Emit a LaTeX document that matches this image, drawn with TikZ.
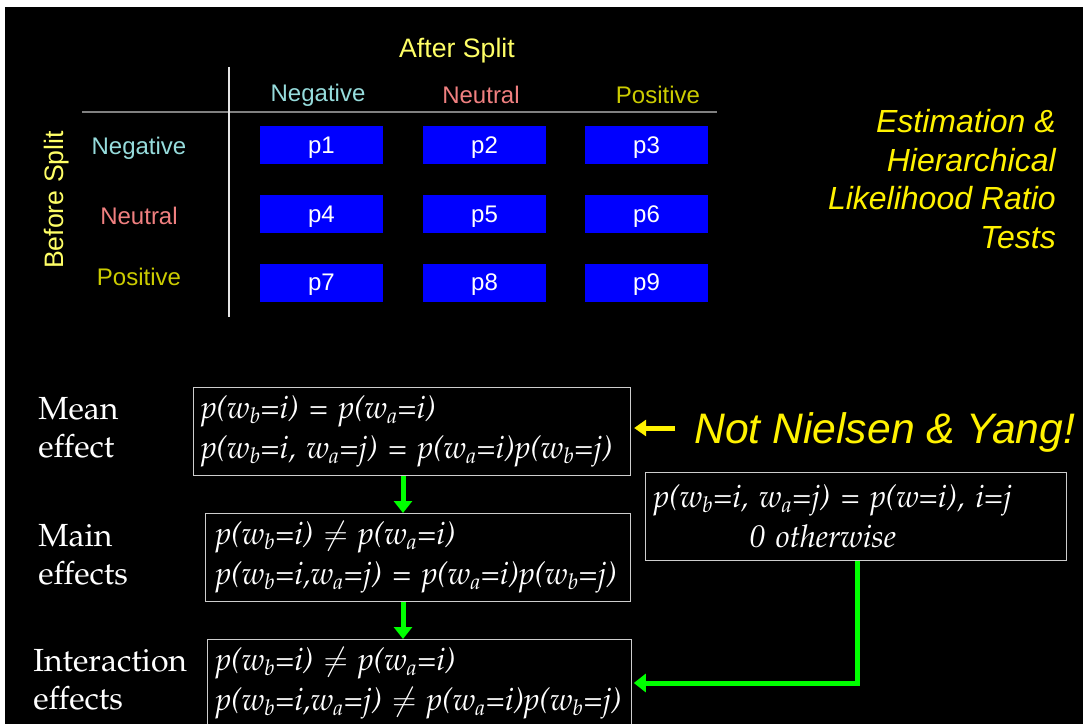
\documentclass[tikz,border=0pt]{standalone}
\usepackage[T1]{fontenc}
\usepackage{fontspec}
\setsansfont{Liberation Sans}
\usetikzlibrary{arrows.meta,positioning,calc}
\definecolor{negcol}{RGB}{150,220,220}
\definecolor{neucol}{RGB}{240,128,128}
\definecolor{poscol}{RGB}{204,204,0}
\definecolor{splitcol}{RGB}{255,255,102}
\definecolor{boxline}{RGB}{205,205,205}
\newcommand\palfont{\fontencoding{T1}\fontfamily{ppl}\selectfont}
\tikzset{%
  % Specifications for style of nodes:
  cell/.style = {rectangle, fill=blue, text=white, inner sep=0pt,
    minimum width=92.25pt, minimum height=28.5pt, text depth=0pt,
    font=\sffamily\fontsize{18}{20}\selectfont},
  head/.style = {inner sep=0pt, font=\sffamily\fontsize{18}{20}\selectfont},
  split/.style = {inner sep=0pt, text=splitcol,
    font=\sffamily\fontsize{20}{24}\selectfont},
  effect/.style = {inner sep=0pt, text=white, anchor=west, align=left,
    font=\palfont\fontsize{24}{28.5}\selectfont},
  model/.style = {rectangle, draw=boxline, line width=1.1pt, text=white,
    anchor=north west, align=left, minimum height=66pt, inner ysep=0pt,
    font=\palfont\itshape\fontsize{23.5}{30}\selectfont},
  note/.style = {inner sep=0pt, text=yellow, font=\sffamily\itshape},
  flow/.style = {draw=green, line width=3.75pt,
    -{Triangle[width=13.5pt,length=9pt]}},
}

\begin{document}
\begin{tikzpicture}[x=0.75pt, y=-0.75pt]
  \useasboundingbox (0,0) rectangle (1083,724);
  \clip (0,0) rectangle (1083,724);
  \fill[white] (0,0) rectangle (1083,724);
  \fill[black] (5,7) rectangle (1083,724);

  % table of transition probabilities
  \node[split] (after) at (457,51) {After Split};
  \node[split, rotate=90] (before) at (57,200) {Before Split};
  \node[head, text=negcol] (colneg) at (318,95) {Negative};
  \node[head, text=neucol] (colneu) at (481,95) {Neutral};
  \node[head, text=poscol] (colpos) at (658,95) {Positive};
  \node[head, text=negcol] (rowneg) at (139,148) {Negative};
  \node[head, text=neucol] (rowneu) at (139,216) {Neutral};
  \node[head, text=poscol] (rowpos) at (139,277) {Positive};
  \draw[gray, line width=1.2pt] (82,112) -- (717,112);
  \draw[white!90!black, line width=0.9pt] (229,67) -- (229,317);
  \foreach \row/\y in {0/145.5,1/214,2/282.5}
    \foreach \col/\x in {1/321.5,2/484.5,3/646.5}{
      \pgfmathtruncatemacro\k{3*\row+\col}
      \node[cell] (p\k) at (\x,\y) {p\k};
    }

  \node[note, align=right, anchor=east,
    font=\sffamily\itshape\fontsize{24}{29}\selectfont] (title) at (1056,179)
    {Estimation \&\\ Hierarchical\\ Likelihood Ratio\\ Tests};

  % hierarchy of models
  \node[effect] (meanlab) at (38,428) {Mean\\ effect};
  \node[effect] (mainlab) at (38,555) {Main\\ effects};
  \node[effect] (interlab) at (33,680) {Interaction\\ effects};

  \node[model, inner xsep=5.5pt, text width=316.75pt] (mean) at (193,387)
    {p(w\textsubscript{b}=i) = p(w\textsubscript{a}=i)\\
     p(w\textsubscript{b}=i, w\textsubscript{a}=j) = p(w\textsubscript{a}=i)p(w\textsubscript{b}=j)};
  \node[model, inner xsep=7.5pt, text width=303.75pt] (main) at (205,513)
    {p(w\textsubscript{b}=i) $\neq$ p(w\textsubscript{a}=i)\\
     p(w\textsubscript{b}=i,w\textsubscript{a}=j) = p(w\textsubscript{a}=i)p(w\textsubscript{b}=j)};
  \node[model, inner xsep=6pt, text width=306pt] (inter) at (207,639)
    {p(w\textsubscript{b}=i) $\neq$ p(w\textsubscript{a}=i)\\
     \mbox{p(w\textsubscript{b}=i,w\textsubscript{a}=j) $\neq$ p(w\textsubscript{a}=i)p(w\textsubscript{b}=j)}};
  \node[model, inner xsep=6pt, text width=303.75pt] (cond) at (645,472)
    {p(w\textsubscript{b}=i, w\textsubscript{a}=j) = p(w=i), i=j\\
     \hspace*{72pt}0 otherwise};

  \node[note, anchor=west, font=\sffamily\itshape\fontsize{32}{38}\selectfont]
    (nielsen) at (694,432) {Not Nielsen \& Yang!};

  % connectors
  \coordinate (axis) at (403,0);
  \coordinate (drop) at (857,683);
  \draw[flow] (mean.south -| axis) -- (main.north -| axis);
  \draw[flow] (main.south -| axis) -- (inter.north -| axis);
  \draw[flow] (cond.south -| drop) |- ([xshift=1pt]inter.east |- drop);
  \draw[draw=yellow, line width=3.75pt, -{Triangle[width=12pt,length=9pt]}]
    ([xshift=-14pt]nielsen.west |- 0,428) -- ([xshift=2pt]mean.east |- 0,428);
\end{tikzpicture}
\end{document}
